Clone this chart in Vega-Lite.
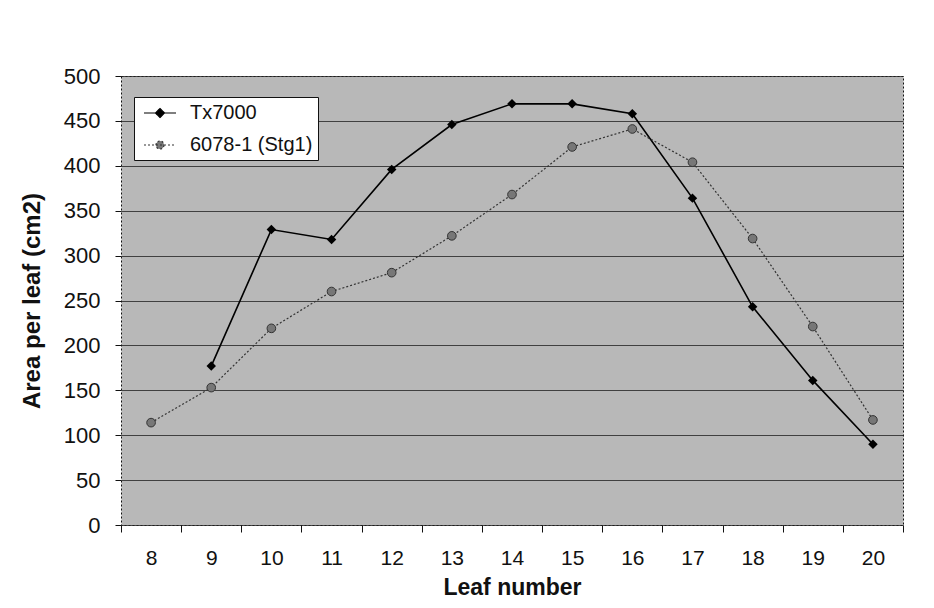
{
  "$schema": "https://vega.github.io/schema/vega-lite/v6.json",
  "width": 782,
  "height": 449,
  "autosize": {"type": "none"},
  "padding": {"left": 121, "top": 76, "right": 31, "bottom": 83},
  "background": "white",
  "config": {
    "font": "Liberation Sans",
    "view": {"fill": "#b8b8b8", "stroke": "#111", "strokeDash": [2, 2], "strokeWidth": 1},
    "axis": {"domain": false, "tickColor": "#111", "labelColor": "#111", "titleColor": "#111", "labelFont": "Liberation Sans", "titleFont": "Liberation Sans"},
    "legend": {
      "orient": "none", "legendX": 13, "legendY": 21,
      "fillColor": "white", "strokeColor": "#111", "padding": 5,
      "symbolSize": 400, "symbolOffset": 10, "labelOffset": 19, "rowPadding": 11,
      "labelFontSize": 20, "labelFont": "Liberation Sans", "labelColor": "#111",
      "symbolOpacity": 1, "symbolStrokeWidth": 1.2
    }
  },
  "data": {"values": [
    {"leaf": 9, "series": "Tx7000", "area": 177},
    {"leaf": 10, "series": "Tx7000", "area": 329},
    {"leaf": 11, "series": "Tx7000", "area": 318},
    {"leaf": 12, "series": "Tx7000", "area": 396},
    {"leaf": 13, "series": "Tx7000", "area": 446},
    {"leaf": 14, "series": "Tx7000", "area": 469},
    {"leaf": 15, "series": "Tx7000", "area": 469},
    {"leaf": 16, "series": "Tx7000", "area": 458},
    {"leaf": 17, "series": "Tx7000", "area": 364},
    {"leaf": 18, "series": "Tx7000", "area": 243},
    {"leaf": 19, "series": "Tx7000", "area": 161},
    {"leaf": 20, "series": "Tx7000", "area": 90},
    {"leaf": 8, "series": "6078-1 (Stg1)", "area": 114},
    {"leaf": 9, "series": "6078-1 (Stg1)", "area": 153},
    {"leaf": 10, "series": "6078-1 (Stg1)", "area": 219},
    {"leaf": 11, "series": "6078-1 (Stg1)", "area": 260},
    {"leaf": 12, "series": "6078-1 (Stg1)", "area": 281},
    {"leaf": 13, "series": "6078-1 (Stg1)", "area": 322},
    {"leaf": 14, "series": "6078-1 (Stg1)", "area": 368},
    {"leaf": 15, "series": "6078-1 (Stg1)", "area": 421},
    {"leaf": 16, "series": "6078-1 (Stg1)", "area": 441},
    {"leaf": 17, "series": "6078-1 (Stg1)", "area": 404},
    {"leaf": 18, "series": "6078-1 (Stg1)", "area": 319},
    {"leaf": 19, "series": "6078-1 (Stg1)", "area": 221},
    {"leaf": 20, "series": "6078-1 (Stg1)", "area": 117}
  ]},
  "encoding": {
    "x": {
      "field": "leaf", "type": "ordinal",
      "scale": {"type": "band", "domain": [8, 9, 10, 11, 12, 13, 14, 15, 16, 17, 18, 19, 20], "paddingInner": 0, "paddingOuter": 0},
      "axis": {"title": "Leaf number", "labelAngle": 0, "labelFontSize": 21, "tickBand": "extent", "tickSize": 7, "labelPadding": 15, "titleFontSize": 23, "titleFontWeight": "bold", "titlePadding": 8, "grid": false}
    },
    "y": {
      "field": "area", "type": "quantitative",
      "scale": {"domain": [0, 500], "nice": false, "zero": true},
      "axis": {"title": "Area per leaf (cm2)", "values": [0, 50, 100, 150, 200, 250, 300, 350, 400, 450, 500], "labelFontSize": 22, "tickSize": 6, "labelPadding": 15, "titleFontSize": 24, "titleFontWeight": "bold", "titlePadding": 19, "grid": true, "gridColor": "#222", "gridWidth": 1, "gridOpacity": 0.8}
    }
  },
  "layer": [
    {
      "transform": [{"filter": "datum.series === 'Tx7000'"}],
      "mark": {"type": "line", "color": "#000", "strokeWidth": 1.6},
      "encoding": {}
    },
    {
      "transform": [{"filter": "datum.series !== 'Tx7000'"}],
      "mark": {"type": "line", "color": "#333", "strokeWidth": 1.2, "strokeDash": [2, 2]},
      "encoding": {}
    },
    {
      "transform": [{"filter": "datum.series === 'Tx7000'"}],
      "mark": {"type": "point", "shape": "diamond", "filled": true, "color": "#000", "size": 90, "opacity": 1},
      "encoding": {}
    },
    {
      "transform": [{"filter": "datum.series !== 'Tx7000'"}],
      "mark": {"type": "point", "shape": "circle", "filled": true, "fill": "#777", "stroke": "#333", "strokeWidth": 1, "size": 75, "opacity": 1},
      "encoding": {}
    },
    {
      "mark": {"type": "point", "filled": true, "opacity": 0},
      "encoding": {
        "shape": {"field": "series", "type": "nominal", "title": null, "scale": {"domain": ["Tx7000", "6078-1 (Stg1)"], "range": ["M-1.6,0H1.6M0,-0.45L0.45,0L0,0.45L-0.45,0Z", "M-1.6,0H1.6M0.4,0A0.4,0.4 0 1,1 -0.4,0A0.4,0.4 0 1,1 0.4,0Z"]}},
        "fill": {"field": "series", "type": "nominal", "title": null, "scale": {"domain": ["Tx7000", "6078-1 (Stg1)"], "range": ["#000", "#777"]}},
        "stroke": {"field": "series", "type": "nominal", "title": null, "scale": {"domain": ["Tx7000", "6078-1 (Stg1)"], "range": ["#000", "#333"]}},
        "strokeDash": {"field": "series", "type": "nominal", "title": null, "scale": {"domain": ["Tx7000", "6078-1 (Stg1)"], "range": [[1, 0], [2, 2]]}}
      }
    }
  ]
}
